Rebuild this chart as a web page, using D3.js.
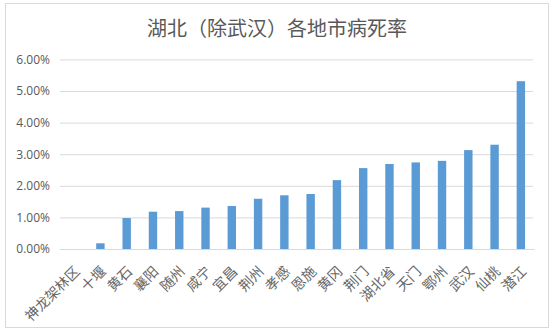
<!DOCTYPE html>
<html><head><meta charset="utf-8">
<script src="https://cdn.jsdelivr.net/npm/d3@7"></script>
<style>
body{margin:0;background:#fff;}
svg{display:block;}
</style></head>
<body>
<script>
const categories = ["神龙架林区","十堰","黄石","襄阳","随州","咸宁","宜昌","荆州","孝感","恩施","黄冈","荆门","湖北省","天门","鄂州","武汉","仙桃","潜江"];
const rates = [0.0000,0.0018,0.0098,0.0118,0.0120,0.0131,0.0136,0.0159,0.0170,0.0174,0.0218,0.0256,0.0269,0.0274,0.0279,0.0313,0.0330,0.0531];
const yTicks = [0,0.01,0.02,0.03,0.04,0.05,0.06];
const title = "湖北（除武汉）各地市病死率";

const W=554,H=332;
const svg=d3.select("body").append("svg").attr("width",W).attr("height",H);
svg.append("rect").attr("x",5.5).attr("y",3.5).attr("width",543).attr("height",324)
  .attr("fill","#fff").attr("stroke","#d9d9d9");

svg.append("text").attr("x",277).attr("y",36).attr("text-anchor","middle")
  .attr("font-family","'Noto Sans CJK SC',sans-serif").attr("font-size",20)
  .attr("fill","#595959").text(title);

const x=d3.scaleBand().domain(categories).range([61,534]).paddingInner(0.68).paddingOuter(0.34);
const y=d3.scaleLinear().domain([0,0.06]).range([249,59.4]);

const gy=svg.append("g").attr("transform","translate(60,0)")
  .call(d3.axisLeft(y).tickValues(yTicks).tickFormat(d3.format(".2%")).tickSize(-473).tickPadding(10));
gy.select(".domain").remove();
gy.selectAll(".tick line").attr("stroke","#d9d9d9");
gy.selectAll(".tick text").attr("fill","#595959").attr("font-size",12)
  .attr("font-family","'Open Sans','DejaVu Sans',sans-serif");

svg.append("g").selectAll("rect").data(rates).join("rect")
  .attr("x",(d,i)=>x(categories[i])).attr("width",x.bandwidth())
  .attr("y",d=>y(d)).attr("height",d=>y(0)-y(d)).attr("fill","#5b9bd5");

const gx=svg.append("g").attr("transform","translate(0,249)")
  .call(d3.axisBottom(x).tickSize(0).tickPadding(0));
gx.select(".domain").attr("stroke","#d9d9d9");
gx.selectAll(".tick text").attr("text-anchor","end")
  .attr("transform","translate(3,20) rotate(-45)")
  .attr("dy","0.35em")
  .attr("fill","#666666").attr("font-size",14)
  .attr("font-family","'Noto Sans CJK SC',sans-serif");
</script>
</body></html>
